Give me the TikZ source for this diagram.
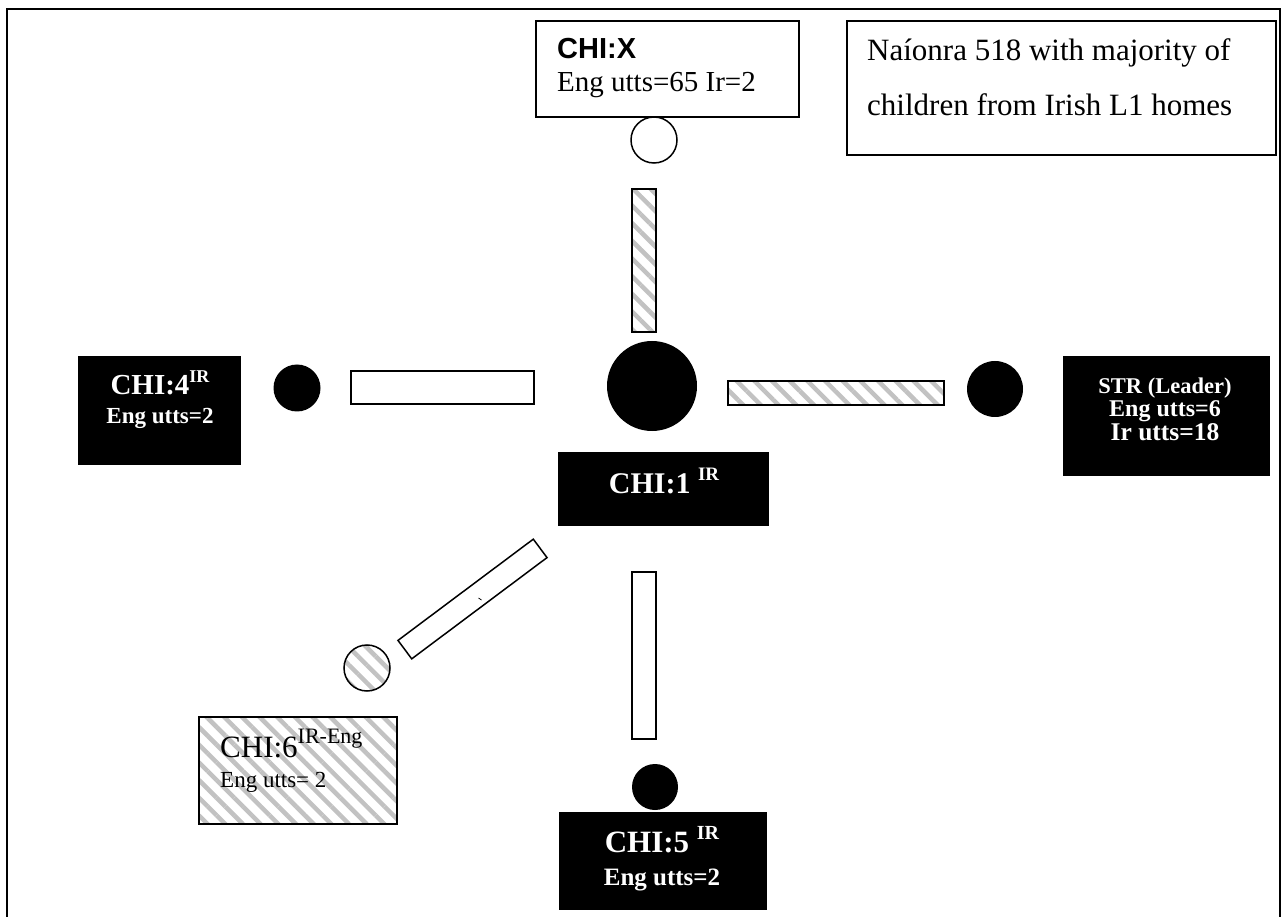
\documentclass[tikz,border=0pt]{standalone}
\usepackage{fontspec}
\setmainfont{Liberation Serif}
\newfontfamily\arialfont{Liberation Sans}
\usetikzlibrary{patterns.meta}
\newcommand{\fs}[1]{\fontsize{#1}{#1}\selectfont}
\newcommand{\supr}[3]{\raisebox{#1pt}{\fs{#2}#3}}
\begin{document}
\begin{tikzpicture}[x=1pt,y=-1pt,
  frame/.style={line width=2pt},
  hatch/.style={pattern={Lines[angle=-45,distance=12.5pt,line width=4.5pt]}, pattern color=black!24},
  wbox/.style={rectangle, draw, line width=2pt, fill=white, inner sep=0pt, outer sep=0pt},
  bbox/.style={rectangle, fill=black, inner sep=0pt, outer sep=0pt},
  hbox/.style={rectangle, draw, line width=2pt, hatch, inner sep=0pt, outer sep=0pt},
  wdot/.style={circle, draw, line width=1.5pt, fill=white, inner sep=0pt},
  bdot/.style={circle, fill=black, inner sep=0pt},
  hdot/.style={circle, draw, line width=1.5pt, hatch, inner sep=0pt},
  wbar/.style={rectangle, draw, line width=1.5pt, fill=white, inner sep=0pt},
  hbar/.style={rectangle, draw, line width=1.5pt, hatch, inner sep=0pt},
  txt/.style={inner sep=0pt, anchor=base},
  ltxt/.style={inner sep=0pt, anchor=base west},
  wtxt/.style={txt, text=white, font=\bfseries},
]
\useasboundingbox (0,0) rectangle (1286,917);
\fill[white] (0,0) rectangle (1286,917);
% frame
\draw[frame] (7,917) -- (7,9) -- (1280,9) -- (1280,917);

% CHI:X
\node[wbox, minimum width=263, minimum height=96] (chix) at (667.5,69) {};
\node[ltxt] (chixa) at (557,59) {\arialfont\bfseries\fs{29}CHI:X};
\node[ltxt] (chixb) at (557,92) {\fs{29}Eng utts=65 Ir=2};
\node[wdot, minimum size=46] (dotx) at (654,140) {};
\node[hbar, minimum width=24, minimum height=143] (barx) at (644,260.5) {};

% legend
\node[wbox, minimum width=429, minimum height=134] (legend) at (1061.5,88) {};
\node[ltxt] (lega) at (867,61) {\fs{31}Naíonra 518 with majority of};
\node[ltxt] (legb) at (867,116) {\fs{31}children from Irish L1 homes};

% CHI:4
\node[bbox, minimum width=163, minimum height=109] (chi4) at (159.5,410.5) {};
\node[wtxt] (chi4a) at (160,395) {\fs{29}CHI:4\supr{12}{18}{IR}};
\node[wtxt] (chi4b) at (160,424) {\fs{23}Eng utts=2};
\node[bdot, minimum size=47] (dot4) at (297,388) {};
\node[wbar, minimum width=183, minimum height=33] (bar4) at (442.5,387.5) {};

% centre CHI:1
\node[bdot, minimum size=90] (dot1) at (652,386) {};
\node[bbox, minimum width=211, minimum height=74] (chi1) at (663.5,489) {};
\node[wtxt] (chi1a) at (664,493) {\fs{30}CHI:1 \supr{13}{19}{IR}};

% STR
\node[hbar, minimum width=216, minimum height=24] (barstr) at (836,393) {};
\node[bdot, minimum size=56] (dotstr) at (995,389) {};
\node[bbox, minimum width=207, minimum height=120] (str) at (1166.5,416) {};
\node[wtxt] (stra) at (1165,394) {\fs{22.5}STR (Leader)};
\node[wtxt] (strb) at (1165,417) {\fs{24}Eng utts=6};
\node[wtxt] (strc) at (1165,440) {\fs{25.5}Ir utts=18};

% CHI:6
\node[wbar, minimum width=169, minimum height=23, rotate=36.8] (bar6) at (472.5,599) {};
\draw[line width=0.8pt] (bar6.center) ++(6,-1) -- ++(3,2);
\node[hdot, minimum size=46] (dot6) at (367,668) {};
\node[hbox, minimum width=198, minimum height=107] (chi6) at (298,770.5) {};
\node[ltxt] (chi6a) at (220,757) {\fs{31}CHI:6\supr{14}{22}{IR-Eng}};
\node[ltxt] (chi6b) at (220,787) {\fs{23}Eng utts= 2};

% CHI:5
\node[wbar, minimum width=24, minimum height=167] (bar5) at (644,655.5) {};
\node[bdot, minimum size=46] (dot5) at (655,787) {};
\node[bbox, minimum width=208, minimum height=98] (chi5) at (663,861) {};
\node[wtxt] (chi5a) at (662,852) {\fs{31}CHI:5 \supr{13}{20}{IR}};
\node[wtxt] (chi5b) at (662,885) {\fs{25}Eng utts=2};
\end{tikzpicture}
\end{document}
